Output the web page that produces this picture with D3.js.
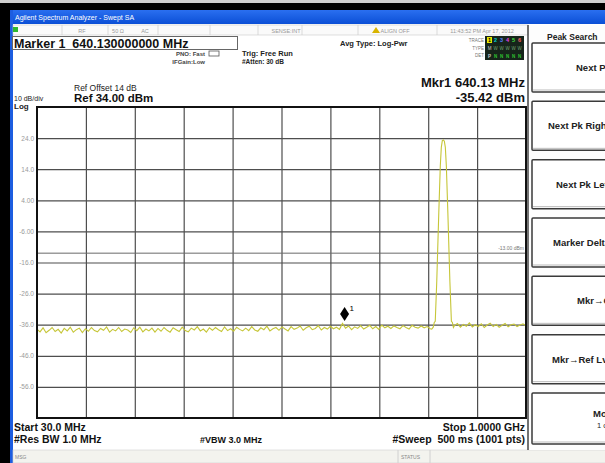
<!DOCTYPE html>
<html>
<head>
<meta charset="utf-8">
<script src="https://cdn.jsdelivr.net/npm/d3@7"></script>
<style>
  body { margin: 0; background: #fff; }
  svg { display: block; font-family: "Liberation Sans", Arial, sans-serif; }
</style>
</head>
<body>
<svg id="sa" width="605" height="463"></svg>
<script>
// sweep settings
const startMHz = 30, stopMHz = 1000;
const refLevel = 34, divs = 10, dbPerDiv = 10;
const displayLine = -13;
const marker = { mhz: 640.13, dbm: -35.42 };

const yTickValues = [24, 14, 4, -6, -16, -26, -36, -46, -56];
const yTickLabels = ["24.0", "14.0", "4.00", "-6.00", "-16.0", "-26.0", "-36.0", "-46.0", "-56.0"];

// noise floor, 30 -> 810 MHz
const noiseLow = [
  -37.4,-38.3,-37.0,-38.6,-37.8,-36.9,-38.2,-37.5,-38.7,-37.2,
  -38.0,-36.8,-38.4,-37.6,-37.1,-38.5,-37.3,-38.1,-36.9,-37.9,
  -38.3,-37.2,-37.8,-36.7,-38.4,-37.5,-38.0,-36.9,-38.2,-37.4,
  -37.7,-38.5,-37.0,-37.9,-36.8,-38.3,-37.4,-38.0,-37.1,-38.4,
  -37.2,-38.1,-36.9,-37.8,-38.4,-37.0,-37.6,-38.2,-36.8,-37.9,
  -38.3,-37.1,-37.7,-36.6,-38.0,-37.4,-38.4,-37.0,-37.8,-36.9,
  -37.6,-38.2,-36.7,-37.9,-37.3,-38.1,-36.8,-37.5,-38.0,-37.1,
  -37.9,-36.6,-37.7,-38.1,-37.0,-37.6,-36.5,-38.0,-37.3,-36.9,
  -37.8,-36.7,-37.4,-38.0,-36.6,-37.5,-37.1,-36.4,-37.8,-37.0,
  -36.5,-37.6,-37.2,-36.3,-37.7,-36.9,-37.4,-36.5,-37.3,-36.8,
  -37.5,-35.6,-37.1,-36.4,-37.6,-36.7,-37.2,-36.3,-37.4,-36.8,
  -36.2,-37.3,-36.6,-37.5,-36.1,-37.0,-36.5,-37.2,-36.4,-36.9,
  -37.3,-36.3,-36.9,-37.4,-36.2,-36.8,-37.1,-36.4,-37.0,-36.6,
  -37.3
];
const noiseLowSpan = [30, 810];

// the carrier near 835 MHz
const peakMHz = [813, 816, 818, 820, 823, 827, 830, 832, 834, 836, 838, 840, 842, 845, 849, 852, 854, 856];
const peakDbm = [-37.4, -36.8, -35.3, -34.9, -22, 0, 15, 21, 23.2, 23.4, 23.0, 21, 15, 0, -22, -34.9, -35.3, -36.9];

// noise floor, 858 -> 1000 MHz
const noiseHigh = [
  -36.3,-35.6,-36.8,-35.9,-36.5,-35.4,-36.7,-36.0,-36.6,-35.7,
  -36.9,-36.1,-35.5,-36.6,-35.9,-36.8,-36.2,-35.6,-36.7,-36.0,
  -35.8,-36.6,-36.1,-35.7,-36.4
];
const noiseHighSpan = [858, 1000];

const softkeys = [
  { lines: ["Next Peak"], tx: [576] },
  { lines: ["Next Pk Right"], tx: [548] },
  { lines: ["Next Pk Left"], tx: [556] },
  { lines: ["Marker Delta"], tx: [553] },
  { lines: ["Mkr\u2192CF"], tx: [577] },
  { lines: ["Mkr\u2192Ref Lvl"], tx: [552] },
  { lines: ["More", "1 of 2"], tx: [593, 597] }
];

const svg = d3.select("#sa");
const W = 605, H = 463;
const plot = { left: 37, top: 107, right: 526, bottom: 418 };

// ---------- frame ----------
svg.append("rect").attr("width", W).attr("height", H).attr("fill", "#fff");
svg.append("rect").attr("width", W).attr("height", 3).attr("fill", "#cfcfcf");
svg.append("rect").attr("y", 3).attr("width", W).attr("height", 7).attr("fill", "#000");
svg.append("rect").attr("x", 0).attr("y", 3).attr("width", 10).attr("height", H).attr("fill", "#000");

const grad = svg.append("defs").append("linearGradient").attr("id", "tb").attr("x1", 0).attr("x2", 0).attr("y1", 0).attr("y2", 1);
grad.append("stop").attr("offset", 0).attr("stop-color", "#2a6ff0");
grad.append("stop").attr("offset", 1).attr("stop-color", "#0b4fd6");
svg.append("rect").attr("x", 10).attr("y", 10).attr("width", W).attr("height", 14).attr("fill", "url(#tb)");
svg.append("rect").attr("x", 10).attr("y", 10).attr("width", 3).attr("height", H).attr("fill", "#1d5de0");
svg.append("text").attr("x", 15).attr("y", 20).attr("fill", "#fff").attr("font-size", 7)
  .text("Agilent Spectrum Analyzer - Swept SA");

// status row
svg.append("rect").attr("x", 13).attr("y", 25).attr("width", 515).attr("height", 10)
  .attr("fill", "#fafafa").attr("stroke", "#c8c8c8").attr("stroke-width", 0.6);
[62, 108, 158, 210, 258, 302, 358, 437].forEach(x => {
  svg.append("line").attr("x1", x).attr("x2", x).attr("y1", 25).attr("y2", 35)
    .attr("stroke", "#c8c8c8").attr("stroke-width", 0.6);
});
svg.append("rect").attr("x", 13).attr("y", 27).attr("width", 5).attr("height", 5).attr("fill", "#2eb82e");
const statusTexts = [
  { x: 82, t: "RF" }, { x: 118, t: "50 \u03A9" }, { x: 145, t: "AC" },
  { x: 286, t: "SENSE:INT" }, { x: 395, t: "ALIGN OFF" }, { x: 482, t: "11:43:52 PM Apr 17, 2012" }
];
statusTexts.forEach(s => {
  svg.append("text").attr("x", s.x).attr("y", 33).attr("text-anchor", "middle")
    .attr("font-size", 5.5).attr("fill", "#999").text(s.t);
});
svg.append("path").attr("d", "M372,33 L376,27 L380,33 Z").attr("fill", "#d8b400");

// header texts
svg.append("rect").attr("x", 12.5).attr("y", 36.5).attr("width", 225).attr("height", 13)
  .attr("fill", "#fff").attr("stroke", "#666").attr("stroke-width", 1);
svg.append("text").attr("x", 14).attr("y", 47.5).attr("font-size", 12.5).attr("font-weight", "bold")
  .attr("fill", "#111").attr("xml:space", "preserve").text("Marker 1  640.130000000 MHz");

svg.append("text").attr("x", 205).attr("y", 56).attr("text-anchor", "end").attr("font-size", 6)
  .attr("font-weight", "bold").attr("fill", "#444").text("PNO: Fast");
svg.append("text").attr("x", 205).attr("y", 63.5).attr("text-anchor", "end").attr("font-size", 6)
  .attr("font-weight", "bold").attr("fill", "#444").text("IFGain:Low");
svg.append("rect").attr("x", 209).attr("y", 51).attr("width", 10).attr("height", 5)
  .attr("fill", "none").attr("stroke", "#555").attr("stroke-width", 0.8);
svg.append("text").attr("x", 242).attr("y", 56).attr("font-size", 7.5).attr("font-weight", "bold")
  .attr("fill", "#222").text("Trig: Free Run");
svg.append("text").attr("x", 242).attr("y", 64).attr("font-size", 6.5).attr("font-weight", "bold")
  .attr("fill", "#222").text("#Atten: 30 dB");
svg.append("text").attr("x", 340).attr("y", 46).attr("font-size", 7.5).attr("font-weight", "bold")
  .attr("fill", "#222").text("Avg Type: Log-Pwr");

// trace status box
["TRACE", "TYPE", "DET"].forEach((t, i) => {
  svg.append("text").attr("x", 484).attr("y", 42 + i * 7.5).attr("text-anchor", "end")
    .attr("font-size", 4.5).attr("fill", "#777").text(t);
});
svg.append("rect").attr("x", 485).attr("y", 36).attr("width", 39).attr("height", 24).attr("fill", "#16241a");
const trColors = ["#e8e800", "#00d0d0", "#5080ff", "#e040e0", "#40e040", "#ff6060"];
trColors.forEach((c, i) => {
  if (i === 0) svg.append("rect").attr("x", 487).attr("y", 37).attr("width", 5).attr("height", 6).attr("fill", c);
  svg.append("text").attr("x", 489.5 + i * 6).attr("y", 42.3).attr("text-anchor", "middle")
    .attr("font-size", 5.5).attr("font-weight", "bold").attr("fill", i === 0 ? "#000" : c).text(i + 1);
  svg.append("text").attr("x", 489.5 + i * 6).attr("y", 50).attr("text-anchor", "middle")
    .attr("font-size", 4.5).attr("fill", i === 0 ? "#d0d0d0" : "#70a070").text(i === 0 ? "M" : "W");
  svg.append("text").attr("x", 489.5 + i * 6).attr("y", 57.5).attr("text-anchor", "middle")
    .attr("font-size", 4.5).attr("font-weight", "bold").attr("fill", i === 0 ? "#d0d0d0" : "#30c030").text(i === 0 ? "P" : "N");
});

svg.append("text").attr("x", 525).attr("y", 87).attr("text-anchor", "end").attr("font-size", 13)
  .attr("font-weight", "bold").attr("fill", "#111").text("Mkr1 640.13 MHz");
svg.append("text").attr("x", 525).attr("y", 102).attr("text-anchor", "end").attr("font-size", 13)
  .attr("font-weight", "bold").attr("fill", "#111").text("-35.42 dBm");

svg.append("text").attr("x", 74).attr("y", 91).attr("font-size", 8.5).attr("fill", "#222").text("Ref Offset 14 dB");
svg.append("text").attr("x", 14).attr("y", 101).attr("font-size", 7).attr("fill", "#222").text("10 dB/div");
svg.append("text").attr("x", 74).attr("y", 102).attr("font-size", 11.5).attr("font-weight", "bold")
  .attr("fill", "#111").text("Ref 34.00 dBm");
svg.append("text").attr("x", 14).attr("y", 108.5).attr("font-size", 8).attr("font-weight", "bold")
  .attr("fill", "#222").text("Log");

// ---------- scales ----------
const x = d3.scaleLinear().domain([startMHz, stopMHz]).range([plot.left, plot.right]);
const y = d3.scaleLinear().domain([refLevel - divs * dbPerDiv, refLevel]).range([plot.bottom, plot.top]);

// grid via axes
const xGrid = d3.range(1, divs).map(i => startMHz + i * (stopMHz - startMHz) / divs);
svg.append("g")
  .attr("transform", `translate(0,${plot.bottom})`)
  .call(d3.axisBottom(x).tickValues(xGrid).tickSize(-(plot.bottom - plot.top)).tickFormat(""))
  .call(g => g.select(".domain").remove())
  .call(g => g.selectAll("line").attr("stroke", "#4e4e4e").attr("stroke-width", 1.2));

svg.append("g")
  .attr("transform", `translate(${plot.left},0)`)
  .call(d3.axisLeft(y).tickValues(yTickValues).tickSize(-(plot.right - plot.left)).tickPadding(3)
    .tickFormat((d, i) => yTickLabels[i]))
  .call(g => g.select(".domain").remove())
  .call(g => g.selectAll("line").attr("stroke", "#4e4e4e").attr("stroke-width", 1.2))
  .call(g => g.selectAll("text").attr("fill", "#9a9a9a").attr("font-size", 6.5)
    .attr("font-family", "Liberation Sans, Arial, sans-serif"));

// display line
svg.append("line").attr("x1", plot.left).attr("x2", plot.right)
  .attr("y1", y(displayLine)).attr("y2", y(displayLine)).attr("stroke", "#6a6a6a").attr("stroke-width", 1);
svg.append("text").attr("x", plot.right - 2).attr("y", y(displayLine) - 3).attr("text-anchor", "end")
  .attr("font-size", 5).attr("fill", "#777").text("-13.00 dBm");

// ---------- trace ----------
const lowIdx = d3.scaleLinear().domain([0, noiseLow.length - 1]).range(noiseLowSpan);
const highIdx = d3.scaleLinear().domain([0, noiseHigh.length - 1]).range(noiseHighSpan);
const trace = []
  .concat(noiseLow.map((v, i) => [lowIdx(i), v]))
  .concat(peakMHz.map((f, i) => [f, peakDbm[i]]))
  .concat(noiseHigh.map((v, i) => [highIdx(i), v]));

svg.append("path")
  .datum(trace)
  .attr("fill", "none")
  .attr("stroke", "#c6c638")
  .attr("stroke-width", 1.1)
  .attr("d", d3.line().x(d => x(d[0])).y(d => y(d[1])));

// plot border
svg.append("rect").attr("x", plot.left).attr("y", plot.top)
  .attr("width", plot.right - plot.left).attr("height", plot.bottom - plot.top)
  .attr("fill", "none").attr("stroke", "#111").attr("stroke-width", 2);

// marker diamond
const mx = x(marker.mhz), my = y(marker.dbm) - 9;
svg.append("path")
  .attr("d", `M${mx},${my - 7} L${mx + 4.5},${my} L${mx},${my + 7} L${mx - 4.5},${my} Z`)
  .attr("fill", "#000");
svg.append("text").attr("x", mx + 5).attr("y", my - 3).attr("font-size", 8).attr("fill", "#000").text("1");

// ---------- bottom annotations ----------
svg.append("text").attr("x", 14).attr("y", 431).attr("font-size", 10.5).attr("font-weight", "bold")
  .attr("fill", "#111").text("Start 30.0 MHz");
svg.append("text").attr("x", 14).attr("y", 443).attr("font-size", 10.5).attr("font-weight", "bold")
  .attr("fill", "#111").text("#Res BW 1.0 MHz");
svg.append("text").attr("x", 200).attr("y", 443).attr("font-size", 9).attr("font-weight", "bold")
  .attr("fill", "#111").text("#VBW 3.0 MHz");
svg.append("text").attr("x", 525).attr("y", 431).attr("text-anchor", "end").attr("font-size", 10.5)
  .attr("font-weight", "bold").attr("fill", "#111").text("Stop 1.0000 GHz");
svg.append("text").attr("x", 525).attr("y", 443).attr("text-anchor", "end").attr("font-size", 10.5)
  .attr("font-weight", "bold").attr("fill", "#111").attr("xml:space", "preserve").text("#Sweep  500 ms (1001 pts)");

svg.append("rect").attr("x", 13).attr("y", 450).attr("width", W).attr("height", 13).attr("fill", "#f3f3ee")
  .attr("stroke", "#d0d0d0").attr("stroke-width", 0.6);
svg.append("line").attr("x1", 398).attr("x2", 398).attr("y1", 450).attr("y2", 463).attr("stroke", "#d0d0d0");
svg.append("line").attr("x1", 430).attr("x2", 430).attr("y1", 450).attr("y2", 463).attr("stroke", "#d0d0d0");
svg.append("text").attr("x", 15).attr("y", 459).attr("font-size", 5).attr("fill", "#888").text("MSG");
svg.append("text").attr("x", 401).attr("y", 459).attr("font-size", 5).attr("fill", "#888").text("STATUS");

// ---------- softkey panel ----------
svg.append("line").attr("x1", 528).attr("x2", 528).attr("y1", 25).attr("y2", 450)
  .attr("stroke", "#444").attr("stroke-width", 1.5);
svg.append("rect").attr("x", 529).attr("y", 25).attr("width", 80).attr("height", 425).attr("fill", "#fdfdfd");
svg.append("text").attr("x", 547).attr("y", 40).attr("font-size", 8.5).attr("font-weight", "bold")
  .attr("fill", "#222").text("Peak Search");

const keyTop = d3.scaleLinear().domain([0, softkeys.length - 1]).range([43, 393]);
softkeys.forEach((k, i) => {
  const top = keyTop(i), h = i === softkeys.length - 1 ? 51 : 49;
  svg.append("rect").attr("x", 532).attr("y", top).attr("width", 90).attr("height", h)
    .attr("fill", "#fff").attr("stroke", "#3a3a3a").attr("stroke-width", 1.5).attr("rx", 1);
  svg.append("line").attr("x1", 533).attr("x2", 605).attr("y1", top + h - 2).attr("y2", top + h - 2)
    .attr("stroke", "#bbb").attr("stroke-width", 1);
  k.lines.forEach((t, j) => {
    const ty = k.lines.length === 1 ? top + h / 2 + 3.5 : top + h / 2 - 2 + j * 11;
    svg.append("text").attr("x", k.tx[j]).attr("y", ty).attr("font-size", j === 0 ? 9.5 : 7.5)
      .attr("font-weight", j === 0 ? "bold" : "normal").attr("fill", "#222").text(t);
  });
});
</script>
</body>
</html>
